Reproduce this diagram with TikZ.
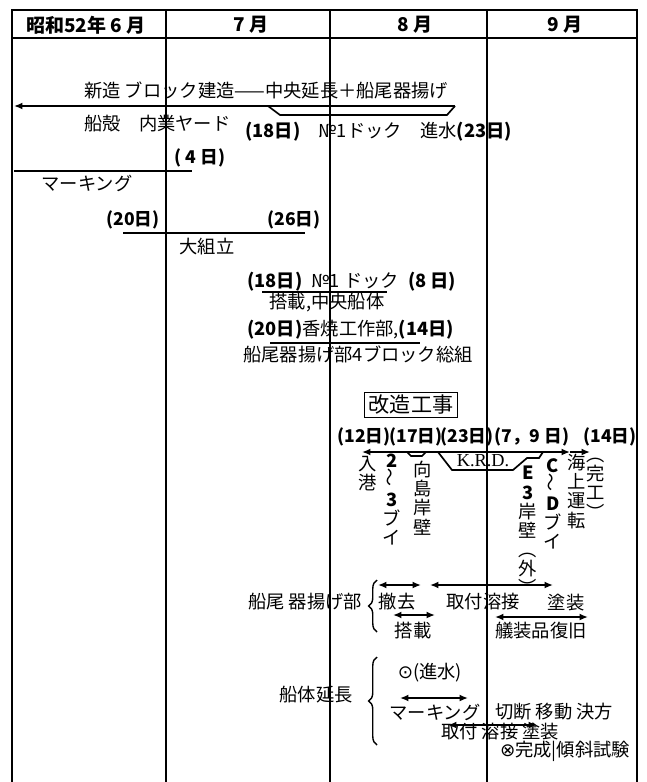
\documentclass[tikz,border=0pt]{standalone}
\usepackage{fontspec}
\setmainfont{Noto Sans CJK JP}
\newfontfamily\symfont{DejaVu Sans}
\newfontfamily\romanfont{Liberation Serif}
\usetikzlibrary{arrows.meta,decorations.pathreplacing}

\tikzset{
  outline/.style={line width=1.3pt},
  divider/.style={line width=0.9pt},
  tline/.style={line width=1.2pt},
  dur/.style={tline, {Latex[length=6pt,width=5pt]}-{Latex[length=6pt,width=5pt]}},
  daytag/.style={font=\fontsize{12.5}{14}\selectfont\bfseries, inner sep=0pt},
  jtext/.style={font=\fontsize{13}{15}\selectfont, inner sep=0pt},
  vtext/.style={font=\fontsize{13}{13.6}\selectfont, align=center, inner sep=0pt, anchor=north},
  curly/.style={line width=1pt, decorate, decoration={brace, amplitude=6pt}},
}

\begin{document}
\begin{tikzpicture}[x=0.025cm, y=-0.025cm]
  % month table, then the work bars from top to bottom
  \useasboundingbox (0,0) rectangle (646,782);
  \draw[outline] (12,782) -- (12,10) -- (637,10) -- (637,782);
  \draw[divider] (12,38) -- (637,38);
  \draw[divider] (166,10) -- (166,782);
  \draw[divider] (330,10) -- (330,782);
  \draw[divider] (487,10) -- (487,782);
  \node[daytag, font=\fontsize{13.5}{15}\selectfont\bfseries] (m6) at (86,25) {昭和52年 6 月};
  \node[daytag, font=\fontsize{13.5}{15}\selectfont\bfseries] (m7) at (251,25) {7 月};
  \node[daytag, font=\fontsize{13.5}{15}\selectfont\bfseries] (m8) at (415,25) {8 月};
  \node[daytag, font=\fontsize{13.5}{15}\selectfont\bfseries] (m9) at (565,25) {9 月};

  \coordinate (n1) at (14,106);
  \coordinate (n2) at (455,106);
  \coordinate (n3) at (268,106);
  \coordinate (n4) at (280,115);
  \coordinate (n5) at (447,115);
  \draw[tline, {Latex[length=6pt,width=5pt]}-] (n1) -- (n2);
  \draw[tline] (n3) -- (n4) -- (n5) -- (n2);
  \node[jtext, anchor=west] (new) at (84,90) {新造\ ブロック建造——中央延長＋船尾器揚げ};
  \node[jtext, anchor=west] (yard) at (84,124) {船殻\quad 内業ヤード};
  \node[jtext, anchor=west] (dock) at (245,132) {{\bfseries(18日)}\quad №1ドック\quad 進水{\bfseries(23日)}};

  \coordinate (k1) at (14,171);
  \coordinate (k2) at (192,171);
  \draw[tline] (k1) -- (k2);
  \node[daytag] (k4) at (200,158) {( 4 日)};
  \node[jtext] (mark) at (87,183) {マーキング};

  \coordinate (a1) at (123,233);
  \coordinate (a2) at (305,233);
  \draw[tline] (a1) -- (a2);
  \node[daytag] (a20) at (133,220) {(20日)};
  \node[daytag] (a26) at (294,220) {(26日)};
  \node[jtext] (big) at (207,247) {大組立};

  \coordinate (d1) at (262,292);
  \coordinate (d2) at (387,292);
  \draw[tline] (d1) -- (d2);
  \node[jtext, anchor=west] (dock1) at (247,282) {{\bfseries(18日)}\enspace №1 ドック\enspace{\bfseries(8 日)}};
  \node[jtext] (mid) at (327,303) {搭載,中央船体};
  \coordinate (e1) at (270,343);
  \coordinate (e2) at (420,343);
  \draw[tline] (e1) -- (e2);
  \node[jtext, anchor=west] (kob) at (247,330) {{\bfseries(20日)}香焼工作部,{\bfseries(14日)}};
  \node[jtext, anchor=west] (stern) at (243,354) {船尾器揚げ部4ブロック総組};

  \node[draw, line width=1pt, font=\fontsize{15}{17}\selectfont, inner xsep=3pt, inner ysep=2pt] (kaizo) at (411,405) {改造工事};

  \node[daytag] (r12) at (364,437) {(12日)};
  \node[daytag] (r17) at (416,437) {(17日)};
  \node[daytag] (r23) at (467,437) {(23日)};
  \node[daytag] (r79) at (532,437) {(7，9 日)};
  \node[daytag] (r14) at (610,437) {(14日)};
  \coordinate (w1) at (362,452);
  \coordinate (w2) at (570,452);
  \coordinate (w3) at (590,452);
  \draw[dur] (w1) -- (w2);
  \draw[tline, -{Latex[length=6pt,width=5pt]}] (w2) -- (w3);
  \coordinate (q1) at (438,452);
  \coordinate (q2) at (452,470);
  \coordinate (q3) at (513,470);
  \coordinate (q4) at (527,458);
  \coordinate (q5) at (539,458);
  \coordinate (q6) at (543,452);
  \draw[tline] (q1) -- (q2) -- (q3) -- (q4) -- (q5) -- (q6);
  \coordinate (p1) at (407,452);
  \coordinate (p2) at (411,456);
  \coordinate (p3) at (422,456);
  \coordinate (p4) at (426,452);
  \draw[tline] (p1) -- (p2) -- (p3) -- (p4);
  \node[font=\romanfont\fontsize{13}{15}\selectfont, inner sep=0pt] (krd) at (483,461) {K.R.D.};
  \node[vtext] (port) at (368,456) {入\\港};
  \node[vtext] (buoy1) at (392,454) {\bfseries 2\\\rotatebox{90}{～}\\\bfseries 3\\ブ\\イ};
  \node[vtext] (muko) at (423,461) {向\\島\\岸\\壁};
  \node[vtext] (e3) at (528,466) {\bfseries E\\\bfseries 3\\岸\\壁\\︵\\外\\︶};
  \node[vtext] (buoy2) at (553,458) {\bfseries C\\\rotatebox{90}{～}\\\bfseries D\\ブ\\イ};
  \node[vtext] (sea) at (577,454) {海\\上\\運\\転};
  \node[vtext] (done) at (596,458) {︵\\完\\工\\︶};

  \node[jtext] (sgroup) at (305,602) {船尾\ 器揚げ部};
  \coordinate (b1) at (377,632);
  \coordinate (b2) at (377,580);
  \draw[curly] (b1) -- (b2);
  \coordinate (t1) at (378,585);
  \coordinate (t2) at (421,585);
  \coordinate (t3) at (430,585);
  \coordinate (t4) at (553,585);
  \draw[dur] (t1) -- (t2);
  \draw[dur] (t3) -- (t4);
  \node[jtext] (remove) at (397,602) {撤去};
  \node[jtext] (weld1) at (483,602) {取付溶接};
  \node[jtext] (paint1) at (566,603) {塗装};
  \coordinate (t5) at (393,615);
  \coordinate (t6) at (435,615);
  \draw[dur] (t5) -- (t6);
  \node[jtext] (mount) at (413,631) {搭載};
  \coordinate (t7) at (495,617);
  \coordinate (t8) at (588,617);
  \draw[dur] (t7) -- (t8);
  \node[jtext] (refit) at (541,631) {艤装品復旧};

  \node[jtext] (hull) at (316,695) {船体延長};
  \coordinate (c1) at (377,745);
  \coordinate (c2) at (377,657);
  \draw[curly] (c1) -- (c2);
  \node[jtext] (launch) at (430,673) {{\symfont ⊙}(進水)};
  \coordinate (u1) at (400,698);
  \coordinate (u2) at (468,698);
  \draw[dur] (u1) -- (u2);
  \node[jtext] (mark2) at (435,712) {マーキング};
  \node[jtext] (cut) at (554,712) {切断\ 移動\ 決方};
  \coordinate (u3) at (448,725);
  \coordinate (u4) at (537,725);
  \draw[dur] (u3) -- (u4);
  \node[jtext] (weld2) at (500,732) {取付\ 溶接\ 塗装};
  \node[jtext] (finish) at (565,751) {{\symfont ⊗}完成|傾斜試験};
\end{tikzpicture}
\end{document}
